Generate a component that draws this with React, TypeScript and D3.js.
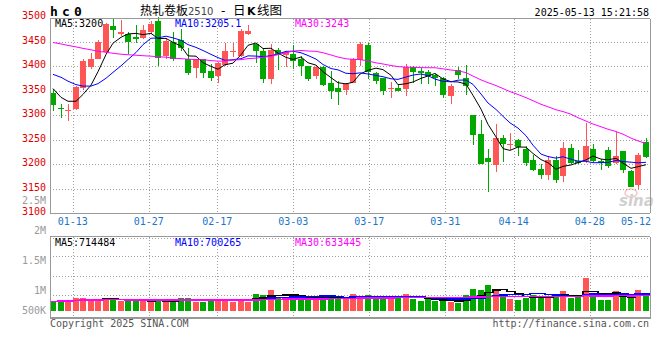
import React from "react";
import * as d3 from "d3";

// ---------------- data ----------------
const opens = [3344,3315,3309,3313,3356,3397,3414,3428,3482,3465, 3465,3460,3458,3470,3492,3421,3448,3453,3414,3395, 3414,3390,3380,3402,3429,3421,3465,3445,3431,3374, 3432,3422,3424,3415,3400,3380,3397,3365,3356,3352, 3366,3412,3443,3385,3375,3353,3356,3353,3397,3390, 3387,3382,3375,3339,3391,3376,3299,3262,3212,3197, 3253,3240,3248,3231,3209,3190,3178,3209,3175,3233, 3207,3207,3231,3207,3229,3202,3226,3185,3157,3244];
const highs = [3354,3322,3322,3359,3415,3426,3453,3488,3496,3494, 3470,3484,3484,3492,3499,3458,3469,3475,3436,3415, 3415,3404,3408,3447,3447,3475,3484,3445,3436,3445, 3436,3429,3443,3421,3400,3400,3400,3390,3369,3366, 3417,3449,3447,3387,3376,3368,3364,3405,3400,3395, 3391,3383,3378,3364,3397,3402,3300,3289,3231,3281, 3260,3264,3251,3236,3219,3199,3216,3216,3244,3240, 3229,3283,3240,3210,3235,3265,3226,3188,3223,3253];
const lows = [3309,3293,3287,3311,3352,3394,3414,3424,3458,3462, 3424,3447,3455,3465,3400,3414,3410,3431,3381,3376, 3376,3369,3365,3400,3419,3419,3463,3407,3366,3363, 3392,3397,3393,3380,3369,3374,3359,3332,3320,3340, 3365,3400,3373,3364,3341,3335,3348,3339,3366,3364, 3363,3359,3335,3323,3373,3341,3238,3200,3142,3184, 3204,3229,3217,3195,3186,3170,3168,3161,3164,3199, 3199,3202,3205,3188,3192,3199,3181,3153,3149,3212];
const closes = [3320,3312,3311,3357,3410,3415,3449,3486,3473,3470, 3449,3455,3473,3486,3417,3451,3414,3436,3385,3414, 3385,3376,3407,3431,3430,3471,3472,3431,3374,3433, 3422,3428,3410,3399,3374,3398,3361,3349,3347,3363, 3414,3445,3387,3369,3348,3356,3349,3397,3387,3385, 3380,3375,3341,3359,3382,3359,3259,3201,3204,3253, 3240,3241,3235,3203,3188,3178,3209,3168,3233,3202, 3202,3237,3207,3202,3195,3217,3188,3154,3219,3214];
const volumes = [393,465,393,562,562,436,507,507,507,436, 436,436,436,393,507,393,393,562,562,393, 393,465,465,507,393,507,393,719,685,896, 583,550,622,579,516,537,634,677,550,499, 719,647,677,495,537,647,537,719,495,436, 495,436,465,393,351,677,930,888,1112,846, 719,507,465,562,677,647,537,647,846,562, 647,1408,634,465,465,846,647,537,888,647].map((v) => v * 1000);

// moving-average values before enough closes exist
const ma5Head = [3354,3336,3328,3328];
const ma10Head = [3383,3377,3369,3362,3359,3359,3364,3375,3387];
const ma30Head = [3448,3445,3442,3439,3436,3433,3430,3428,3426,3424, 3423,3422,3421,3420,3419,3418,3416,3415,3414,3413, 3413,3411,3410,3410,3412,3413,3415,3416,3418];

const priceTicks = [3500,3450,3400,3350,3300,3250,3200,3150,3100];
const xTickLabels = ["01-13","01-27","02-17","03-03","03-17","03-31","04-14","04-28","05-12"];
const xTickIndex = [3,13,22,32,42,52,61,71,78];
const volTickLabels = ["2.5M","2M","1.5M","1M","500K"];
const priceLegend = ["MA5:3200","MA10:3205.1","MA30:3243"];
const volLegend = ["MA5:714484","MA10:700265","MA30:633445"];

// ---------------- layout ----------------
const L = 50, R = 650;
const MT = 18.5, MB = 213;
const VT = 236.5, VB = 317.5, VBASE = 311;
const volLabelY = [203.5, 233.5, 263.5, 293.7, 314];
const RED = "#ff5555", GREEN = "#00a800";
const GRID = "#a0a0a0", BORDER = "#999";
const MONO = "DejaVu Sans Mono, monospace";
const MA_COLORS = ["#000000", "#0000ff", "#ff00ff"];
const legendX = [55, 175, 295];

function movingAvg(vals: number[], n: number, head?: number[]) {
  return vals.map((_, i) => {
    if (i < n - 1) return head ? head[i] : (d3.mean(vals.slice(0, i + 1)) as number);
    return d3.mean(vals.slice(i - n + 1, i + 1)) as number;
  });
}

export default function App() {
  const n = closes.length;
  const x = d3.scaleLinear().domain([0, n]).range([L, R]); // candle slots
  const gx = d3.scaleLinear().domain([0, n - 1]).range([L, R + 0.5]); // date gridlines
  const y = d3.scaleLinear().domain([3100, 3500]).range([MB, 17]);
  const vy = d3.scaleLinear().domain([0, 1000000]).range([VBASE, VBASE - 23.65]);
  const bw = 6;
  const cx = (i: number) => Math.round(x(i)) + bw / 2;

  const priceMAs = [
    movingAvg(closes, 5, ma5Head),
    movingAvg(closes, 10, ma10Head),
    movingAvg(closes, 30, ma30Head),
  ];
  const volMAs = [movingAvg(volumes, 5), movingAvg(volumes, 10), movingAvg(volumes, 30)];

  const priceLine = d3
    .line<number>()
    .x((_, i) => cx(i))
    .y((d) => y(d));

  const volLine = d3
    .line<[number, number]>()
    .x((d) => d[0])
    .y((d) => d[1])
    .curve(d3.curveStepAfter);

  const gridIdx = xTickIndex.slice(0, xTickIndex.length - 1);
  const hGrid = priceTicks.slice(1, priceTicks.length - 1);
  const volGridY = [255.7, 275.7, 295.3];

  return (
    <svg
      width={660}
      height={360}
      style={{ position: "absolute", left: 0, top: 0, background: "#fff" }}
      shapeRendering="crispEdges"
    >
      <rect x={0} y={0} width={660} height={360} fill="#fff" />

      {/* header */}
      <text x={50} y={15.5} fontFamily={MONO} fontSize={13} fontWeight="bold" letterSpacing={4.2} fill="#000">
        hc0
      </text>
      <text x={140} y={14.5} fontFamily="Noto Sans CJK SC" fontSize={12} fill="#000">热轧卷板</text>
      <text x={188} y={14.5} fontFamily="DejaVu Sans, sans-serif" fontSize={10} fill="#444">2510</text>
      <text x={221} y={14.5} fontFamily="DejaVu Sans, sans-serif" fontSize={12} fill="#000">-</text>
      <text x={233} y={14.5} fontFamily="Noto Sans CJK SC" fontSize={12.5} fill="#000">日</text>
      <text x={247} y={14.5} fontFamily="DejaVu Sans, sans-serif" fontSize={11} fontWeight="bold" fill="#000">K</text>
      <text x={257} y={14.5} fontFamily="Noto Sans CJK SC" fontSize={12.5} fill="#000">线图</text>
      <text x={649} y={15.5} textAnchor="end" fontFamily={MONO} fontSize={10} fill="#000">
        2025-05-13 15:21:58
      </text>

      {/* main panel grid */}
      {hGrid.map((p) => (
        <line key={"h" + p} x1={L} x2={R} y1={Math.round(y(p)) + 0.5} y2={Math.round(y(p)) + 0.5} stroke={GRID} strokeDasharray="1 2" />
      ))}
      {gridIdx.map((i) => (
        <line key={"v" + i} x1={Math.round(gx(i)) + 0.5} x2={Math.round(gx(i)) + 0.5} y1={MT} y2={MB} stroke={GRID} strokeDasharray="1 2" />
      ))}

      {/* volume panel grid */}
      {volGridY.map((yy) => (
        <line key={"vh" + yy} x1={L} x2={R} y1={Math.round(yy) + 0.5} y2={Math.round(yy) + 0.5} stroke={GRID} strokeDasharray="1 2" />
      ))}
      <line x1={L} x2={R} y1={VT + 2} y2={VT + 2} stroke={GRID} strokeDasharray="1 2" />
      {gridIdx.map((i) => (
        <line key={"vv" + i} x1={Math.round(gx(i)) + 0.5} x2={Math.round(gx(i)) + 0.5} y1={VT} y2={VB} stroke={GRID} strokeDasharray="1 2" />
      ))}

      {/* volume bars */}
      {volumes.map((v, i) => {
        const up = closes[i] >= opens[i];
        const top = vy(v);
        return (
          <rect key={"vb" + i} x={Math.round(x(i))} y={top} width={bw} height={VBASE - top} fill={up ? RED : GREEN} />
        );
      })}
      {volMAs.map((ma, k) => {
        const pts: [number, number][] = ma.map((v, i) => [Math.round(x(i)), vy(v)] as [number, number]);
        pts.push([R, vy(ma[ma.length - 1])]);
        return <path key={"vma" + k} d={volLine(pts) || ""} fill="none" stroke={MA_COLORS[k]} strokeWidth={1.5} />;
      })}

      {/* candles */}
      {closes.map((c, i) => {
        const o = opens[i];
        const up = c > o || (c === o && i > 0 && c >= closes[i - 1]);
        const col = c > o ? RED : c < o ? GREEN : up ? RED : GREEN;
        const xl = Math.round(x(i));
        const top = Math.round(y(Math.max(o, c)));
        const bot = Math.round(y(Math.min(o, c)));
        return (
          <g key={"c" + i}>
            <line x1={xl + 3.5} x2={xl + 3.5} y1={Math.round(y(highs[i]))} y2={Math.round(y(lows[i]))} stroke={col} strokeWidth={1} />
            <rect x={xl} y={top} width={bw} height={Math.max(1, bot - top)} fill={col} />
          </g>
        );
      })}

      {/* price moving averages */}
      {priceMAs.map((ma, k) => (
        <path key={"ma" + k} d={priceLine(ma) || ""} fill="none" stroke={MA_COLORS[k]} strokeWidth={1} shapeRendering="geometricPrecision" />
      ))}

      {/* borders */}
      <line x1={L} x2={R} y1={MT} y2={MT} stroke={BORDER} />
      <line x1={L} x2={R} y1={MB + 0.5} y2={MB + 0.5} stroke={BORDER} />
      <line x1={L + 0.5} x2={L + 0.5} y1={MT} y2={MB} stroke={BORDER} />
      <line x1={R + 0.5} x2={R + 0.5} y1={MT} y2={MB} stroke={BORDER} />
      <line x1={L} x2={R} y1={VT} y2={VT} stroke={BORDER} />
      <line x1={L} x2={R + 1} y1={VB} y2={VB} stroke={BORDER} strokeWidth={2} />
      <line x1={L + 0.5} x2={L + 0.5} y1={VT} y2={VB} stroke={BORDER} />
      <line x1={R + 0.5} x2={R + 0.5} y1={VT} y2={VB} stroke={BORDER} />

      {/* legends */}
      {priceLegend.map((t, k) => (
        <text key={"pl" + k} x={legendX[k]} y={27} fontFamily={MONO} fontSize={10} fill={MA_COLORS[k]}>{t}</text>
      ))}
      {volLegend.map((t, k) => (
        <text key={"vl" + k} x={legendX[k]} y={246} fontFamily={MONO} fontSize={10} fill={MA_COLORS[k]}>{t}</text>
      ))}

      {/* price axis labels */}
      {priceTicks.map((p) => (
        <text key={"yt" + p} x={46} y={y(p) + 2.3} textAnchor="end" fontFamily={MONO} fontSize={10} fill="#e00000">{p}</text>
      ))}
      {/* volume axis labels */}
      {volTickLabels.map((t, k) => (
        <text key={"vt" + k} x={46} y={volLabelY[k]} textAnchor="end" fontFamily={MONO} fontSize={10} fill="#9a9a9a">{t}</text>
      ))}

      {/* date labels */}
      {xTickLabels.map((t, k) => {
        const cxl = Math.min(gx(xTickIndex[k]), R + 1 - 15);
        return (
          <text key={"xt" + k} x={cxl} y={224.5} textAnchor="middle" fontFamily={MONO} fontSize={10} fill="#1a75c9">{t}</text>
        );
      })}

      {/* watermark */}
      <g opacity={0.45}>
        <ellipse cx={631} cy={193} rx={6} ry={4} fill="none" stroke="#f08080" strokeWidth={1.5} shapeRendering="geometricPrecision" />
        <text x={619} y={206} fontFamily="DejaVu Sans, sans-serif" fontSize={15} fontStyle="italic" fontWeight="bold" fill="#999">sina</text>
      </g>

      {/* footer */}
      <text x={50} y={326.5} fontFamily={MONO} fontSize={10} fill="#555">Copyright 2025 SINA.COM</text>
      <text x={649} y={326.5} textAnchor="end" fontFamily={MONO} fontSize={10} fill="#555">http://finance.sina.com.cn</text>
    </svg>
  );
}
